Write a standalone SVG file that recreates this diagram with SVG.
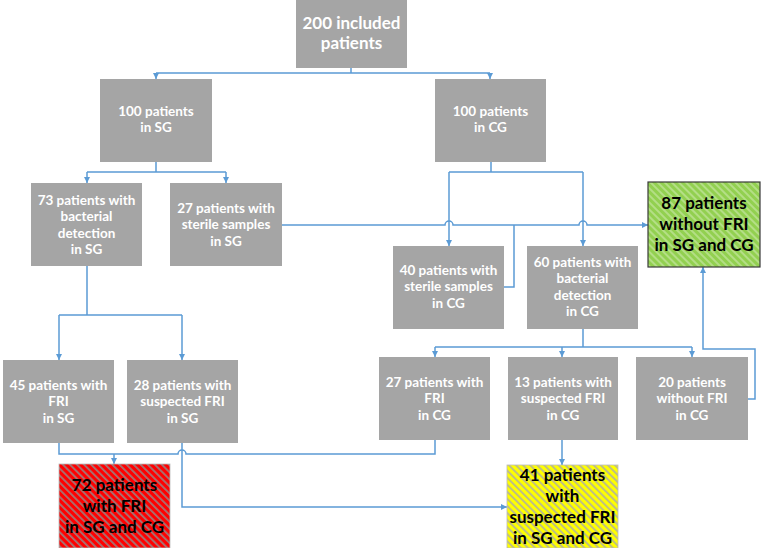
<svg xmlns="http://www.w3.org/2000/svg" width="762" height="548" viewBox="0 0 762 548">
<style>
.n{fill:#a5a5a5}
.t{font-family:Lato,"Liberation Sans",sans-serif;font-weight:bold;font-size:13.5px;fill:#ffffff;text-anchor:middle}
.tb{font-family:Lato,"Liberation Sans",sans-serif;font-weight:bold;font-size:17px;fill:#000000;text-anchor:middle}
.big{font-size:17px}
.c{fill:none;stroke:#5b9bd5;stroke-width:1.5}
</style>
<defs>
<marker id="ah" markerUnits="userSpaceOnUse" markerWidth="7" markerHeight="7" refX="6" refY="3.5" orient="auto">
<path d="M0,0.5 L6,3.5 L0,6.5 z" fill="#5b9bd5"/>
</marker>
<pattern id="pg" patternUnits="userSpaceOnUse" width="5" height="5" patternTransform="rotate(-45)">
<rect width="5" height="5" fill="#92d050"/><rect width="2" height="5" fill="#b4de86"/>
</pattern>
<pattern id="pr" patternUnits="userSpaceOnUse" width="5" height="5" patternTransform="rotate(-45)">
<rect width="5" height="5" fill="#ff0000"/><rect width="1.8" height="5" fill="#a07878"/>
</pattern>
<pattern id="py" patternUnits="userSpaceOnUse" width="5" height="5" patternTransform="rotate(-45)">
<rect width="5" height="5" fill="#ffff00"/><rect width="1.8" height="5" fill="#b8b890"/>
</pattern>
</defs>

<g id="connectors">
<path class="c" d="M351,68 V73 M156,73 H490"/>
<path class="c" d="M156,73 V79" marker-end="url(#ah)"/>
<path class="c" d="M490,73 V79" marker-end="url(#ah)"/>
<path class="c" d="M156,162 V172 M87,172 H226"/>
<path class="c" d="M87,172 V183" marker-end="url(#ah)"/>
<path class="c" d="M226,172 V183" marker-end="url(#ah)"/>
<path class="c" d="M491,162 V172 M449,172 H583"/>
<path class="c" d="M449,172 V246" marker-end="url(#ah)"/>
<path class="c" d="M583,172 V246" marker-end="url(#ah)"/>
<path class="c" d="M282,225 H445 a4,4 0 0 1 8,0 H579 a4,4 0 0 1 8,0 H648" marker-end="url(#ah)"/>
<path class="c" d="M504,287 H514 V225"/>
<path class="c" d="M583,329 V347 M435,347 H692"/>
<path class="c" d="M435,347 V357" marker-end="url(#ah)"/>
<path class="c" d="M562,347 V357" marker-end="url(#ah)"/>
<path class="c" d="M692,347 V357" marker-end="url(#ah)"/>
<path class="c" d="M748,399 H755 V349 H703 V267" marker-end="url(#ah)"/>
<path class="c" d="M87,266 V315 M59,315 H182"/>
<path class="c" d="M59,315 V360" marker-end="url(#ah)"/>
<path class="c" d="M182,315 V360" marker-end="url(#ah)"/>
<path class="c" d="M59,443 V454 H178 a4,4 0 0 1 8,0 H435 V440"/>
<path class="c" d="M114,454 V464" marker-end="url(#ah)"/>
<path class="c" d="M182,443 V507 H507" marker-end="url(#ah)"/>
<path class="c" d="M562,440 V465" marker-end="url(#ah)"/>
</g>

<g id="n200"><rect class="n" x="296" y="0" width="111" height="68"/>
<text class="t big" x="351.5" y="29">200 included</text><text class="t big" x="351.5" y="49">patients</text></g>

<g id="n100sg"><rect class="n" x="100" y="79" width="112" height="83"/>
<text class="t" x="156" y="116">100 patients</text><text class="t" x="156" y="132">in SG</text></g>

<g id="n100cg"><rect class="n" x="435" y="79" width="111" height="83"/>
<text class="t" x="490.5" y="116">100 patients</text><text class="t" x="490.5" y="132">in CG</text></g>

<g id="n73sg"><rect class="n" x="31" y="183" width="111" height="83"/>
<text class="t" x="86.5" y="204.5">73 patients with</text><text class="t" x="86.5" y="221">bacterial</text><text class="t" x="86.5" y="237.5">detection</text><text class="t" x="86.5" y="254">in SG</text></g>

<g id="n27sg"><rect class="n" x="170" y="183" width="112" height="83"/>
<text class="t" x="226" y="212.5">27 patients with</text><text class="t" x="226" y="229">sterile samples</text><text class="t" x="226" y="245.5">in SG</text></g>

<g id="n87"><rect x="648" y="182" width="112" height="85" fill="url(#pg)" stroke="#3a3a3a" stroke-width="1.2"/>
<text class="tb" x="704" y="209">87 patients</text><text class="tb" x="704" y="230">without FRI</text><text class="tb" x="704" y="251">in SG and CG</text></g>

<g id="n40cg"><rect class="n" x="393" y="246" width="111" height="83"/>
<text class="t" x="448.5" y="274.5">40 patients with</text><text class="t" x="448.5" y="291">sterile samples</text><text class="t" x="448.5" y="307.5">in CG</text></g>

<g id="n60cg"><rect class="n" x="527" y="246" width="111" height="83"/>
<text class="t" x="582.5" y="266.5">60 patients with</text><text class="t" x="582.5" y="283">bacterial</text><text class="t" x="582.5" y="299.5">detection</text><text class="t" x="582.5" y="316">in CG</text></g>

<g id="n45sg"><rect class="n" x="3" y="360" width="111" height="83"/>
<text class="t" x="58.5" y="389.5">45 patients with</text><text class="t" x="58.5" y="406">FRI</text><text class="t" x="58.5" y="422.5">in SG</text></g>

<g id="n28sg"><rect class="n" x="127" y="360" width="111" height="83"/>
<text class="t" x="182.5" y="389.5">28 patients with</text><text class="t" x="182.5" y="406">suspected FRI</text><text class="t" x="182.5" y="422.5">in SG</text></g>

<g id="n27cg"><rect class="n" x="379" y="357" width="111" height="83"/>
<text class="t" x="434.5" y="386.5">27 patients with</text><text class="t" x="434.5" y="403">FRI</text><text class="t" x="434.5" y="419.5">in CG</text></g>

<g id="n13cg"><rect class="n" x="508" y="357" width="110" height="83"/>
<text class="t" x="563" y="386.5">13 patients with</text><text class="t" x="563" y="403">suspected FRI</text><text class="t" x="563" y="419.5">in CG</text></g>

<g id="n20cg"><rect class="n" x="636" y="357" width="112" height="83"/>
<text class="t" x="692" y="386.5">20 patients</text><text class="t" x="692" y="403">without FRI</text><text class="t" x="692" y="419.5">in CG</text></g>

<g id="n72"><rect x="59" y="464" width="111" height="84" fill="url(#pr)" stroke="#bbbbbb" stroke-width="0.8"/>
<text class="tb" x="114.5" y="491">72 patients</text><text class="tb" x="114.5" y="512">with FRI</text><text class="tb" x="114.5" y="533">in SG and CG</text></g>

<g id="n41"><rect x="507" y="465" width="111" height="83" fill="url(#py)" stroke="#bbbbbb" stroke-width="0.8"/>
<text class="tb" x="562.5" y="481">41 patients</text><text class="tb" x="562.5" y="502">with</text><text class="tb" x="562.5" y="523">suspected FRI</text><text class="tb" x="562.5" y="544">in SG and CG</text></g>
</svg>
